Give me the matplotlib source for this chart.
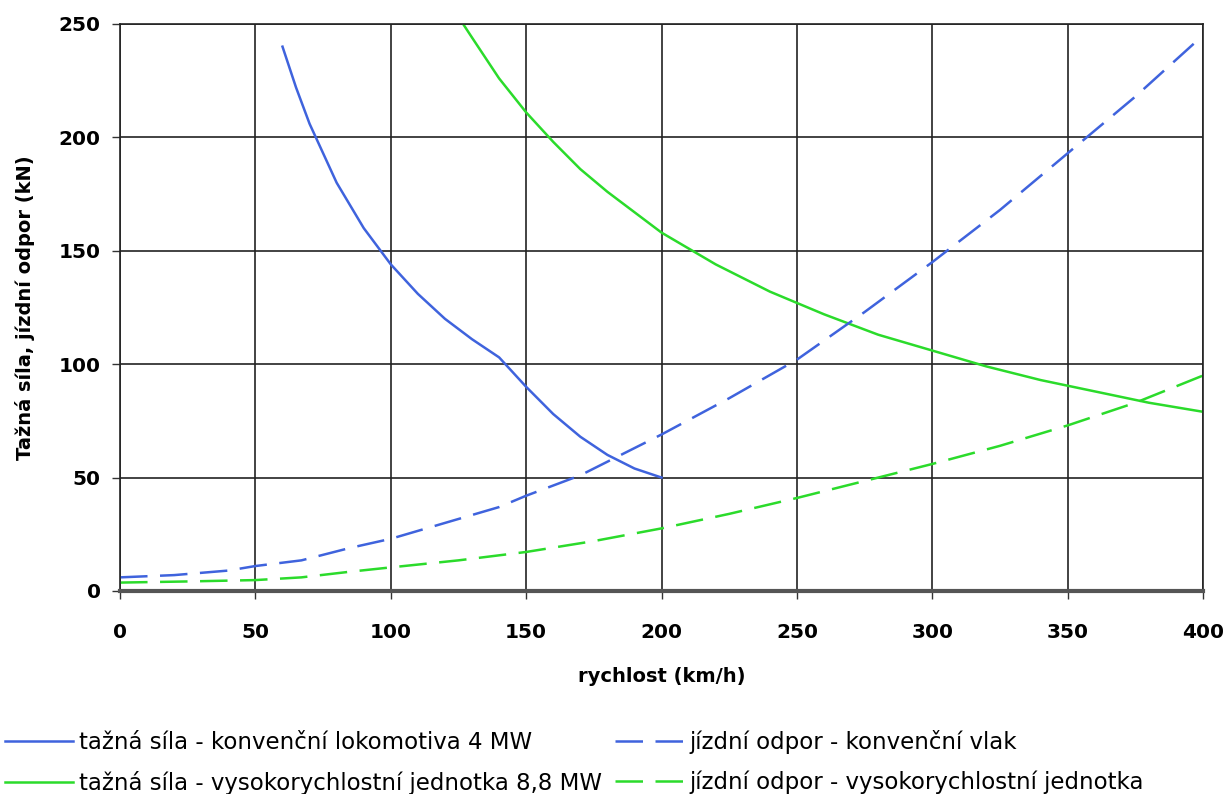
import numpy as np
import matplotlib.pyplot as plt

# tažná síla - konvenční lokomotiva 4 MW
v_loco = [60, 65, 70, 80, 90, 100, 110, 120, 130, 140, 150, 160, 170, 180, 190, 200]
F_loco = [240, 222, 206, 180, 160, 144, 131, 120, 111, 103, 90, 78, 68, 60, 54, 50]

# tažná síla - vysokorychlostní jednotka 8,8 MW
v_hs = [126.7, 130, 140, 150, 160, 170, 180, 190, 200, 220, 240, 260, 280, 300,
        320, 340, 360, 380, 400]
F_hs = [250, 244, 226, 211, 198, 186, 176, 167, 158, 144, 132, 122, 113, 106,
        99, 93, 88, 83, 79]

# jízdní odpor - konvenční vlak
v_rc = [0, 20, 40, 50, 67, 85, 100, 120, 140, 150, 170, 185, 200, 225, 250, 275,
        300, 325, 350, 375, 400]
R_rc = [6, 7, 9, 11, 13.5, 19, 23, 30, 37, 42, 51, 60, 69, 85, 102, 123,
        145, 168, 193, 218, 245]

# jízdní odpor - vysokorychlostní jednotka
v_rh = [0, 25, 50, 67, 85, 100, 125, 150, 175, 200, 225, 250, 280, 300, 325,
        350, 375, 400]
R_rh = [3.7, 4.2, 4.8, 6, 8.5, 10.4, 13.5, 17.2, 22, 27.6, 34, 41, 50, 56, 64,
        73, 83, 95]

blue = "#3f63dd"
green = "#2bdb2b"

fig = plt.figure(figsize=(12.3, 7.94), dpi=100)
ax = fig.add_axes([0.0976, 0.2557, 0.8805, 0.7141])

ax.plot(v_loco, F_loco, color=blue, lw=1.8,
        label="tažná síla - konvenční lokomotiva 4 MW")
ax.plot(v_hs, F_hs, color=green, lw=1.8,
        label="tažná síla - vysokorychlostní jednotka 8,8 MW")
ax.plot(v_rc, R_rc, color=blue, lw=1.8, dashes=(11, 5),
        label="jízdní odpor - konvenční vlak")
ax.plot(v_rh, R_rh, color=green, lw=1.8, dashes=(11, 5),
        label="jízdní odpor - vysokorychlostní jednotka")

ax.set_xlim(0, 400)
ax.set_ylim(0, 250)
ax.set_xticks(np.arange(0, 401, 50))
ax.set_yticks(np.arange(0, 251, 50))
ax.grid(True, color="#222222", lw=1.2)
for s in ["left", "right", "top"]:
    ax.spines[s].set_color("#222222")
    ax.spines[s].set_linewidth(1.2)
ax.spines["bottom"].set_color("#555555")
ax.spines["bottom"].set_linewidth(3)

ax.tick_params(axis="both", direction="out", length=6, width=1, color="#333333",
               labelsize=14.5)
ax.tick_params(axis="x", pad=17)
ax.tick_params(axis="y", pad=8)
for lbl in ax.get_xticklabels() + ax.get_yticklabels():
    lbl.set_fontweight("bold")

ax.set_xlabel("rychlost (km/h)", fontsize=14, fontweight="bold", labelpad=18)
ax.set_ylabel("Tažná síla, jízdní odpor (kN)", fontsize=14, fontweight="bold",
              labelpad=17)

fig.legend(loc="upper left", bbox_to_anchor=(0.004, 0.08), ncol=2, frameon=False,
           fontsize=16.5, handlelength=2.95, handletextpad=0.3, columnspacing=0.55,
           labelspacing=0.72, borderaxespad=0, borderpad=0)

fig.savefig("out.png", dpi=100)
